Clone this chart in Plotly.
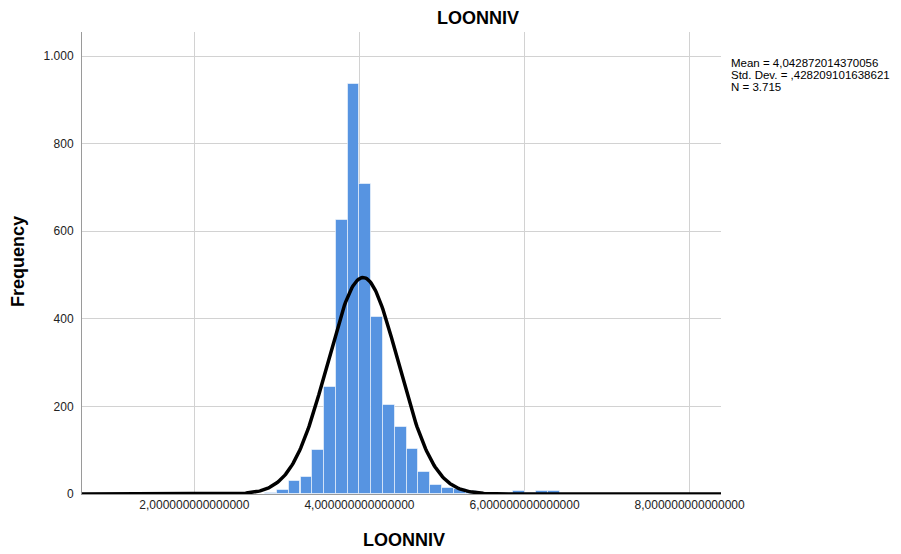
import numpy as np
import plotly.graph_objects as go

# Histogram of LOONNIV: lower edge of each bin and its frequency
bin_lower = [2.714, 2.857, 3.000, 3.143, 3.286, 3.429, 3.571, 3.714, 3.857,
             4.000, 4.143, 4.286, 4.429, 4.571, 4.714, 4.857, 5.000, 5.143,
             5.286, 5.429, 5.571, 5.714, 5.857, 6.000, 6.143, 6.286]
frequency = [1, 3, 10, 29, 39, 101, 245, 626, 936,
             708, 405, 203, 154, 102, 51, 20, 14, 11,
             7, 3, 2, 2, 8, 2, 7, 7]
BIN_WIDTH = 1 / 7

# Summary statistics
mean_value = 4.042872014370056
std_dev = 0.428209101638621
n_cases = 3715
stat_lines = ["Mean = 4,042872014370056",
              "Std. Dev. = ,428209101638621",
              "N = 3.715"]

x_tickvals = [2, 4, 6, 8]
x_ticktext = ["2,000000000000000", "4,000000000000000",
              "6,000000000000000", "8,000000000000000"]
y_tickvals = [0, 200, 400, 600, 800, 1000]
y_ticktext = ["0", "200", "400", "600", "800", "1.000"]

X_RANGE = [0.639, 8.38]
Y_RANGE = [0, 1055]

FONT = "Liberation Sans, Arial, sans-serif"
BAR_COLOR = "#5794e1"

MARGIN_L, MARGIN_R, MARGIN_T, MARGIN_B = 82, 180, 32, 60
W, H = 901, 554

centers = [b + BIN_WIDTH / 2 for b in bin_lower]

# Normal curve scaled to the histogram's counts
xs = np.linspace(X_RANGE[0], X_RANGE[1], 600)
ys = (n_cases * BIN_WIDTH / (std_dev * np.sqrt(2 * np.pi))
      * np.exp(-0.5 * ((xs - mean_value) / std_dev) ** 2))

fig = go.Figure()
fig.add_trace(go.Bar(
    x=centers, y=frequency, width=BIN_WIDTH,
    marker=dict(color=BAR_COLOR, line=dict(color="rgba(255,255,255,0.55)", width=1)),
    showlegend=False, hoverinfo="x+y",
))
fig.add_trace(go.Scatter(
    x=xs, y=ys, mode="lines",
    line=dict(color="black", width=3.5),
    showlegend=False, hoverinfo="skip",
))

# Stats block to the right of the plot, positioned in pixels
plot_w = W - MARGIN_L - MARGIN_R
plot_h = H - MARGIN_T - MARGIN_B
for i, line in enumerate(stat_lines):
    px, py = 729, 63 + 12 * i
    fig.add_annotation(
        x=(px - MARGIN_L) / plot_w, y=(H - MARGIN_B - py) / plot_h,
        xref="paper", yref="paper",
        text=line, showarrow=False, xanchor="left", yanchor="middle",
        font=dict(family=FONT, size=11.5, color="black"),
    )

# Axis titles placed as annotations in pixel positions
fig.add_annotation(
    x=(404 - MARGIN_L) / plot_w, y=(H - MARGIN_B - 540) / plot_h,
    xref="paper", yref="paper", text="<b>LOONNIV</b>", showarrow=False,
    xanchor="center", yanchor="middle",
    font=dict(family=FONT, size=18, color="black"),
)
fig.add_annotation(
    x=(18 - MARGIN_L) / plot_w, y=(H - MARGIN_B - 262) / plot_h,
    xref="paper", yref="paper", text="<b>Frequency</b>", showarrow=False,
    xanchor="center", yanchor="middle", textangle=-90,
    font=dict(family=FONT, size=18, color="black"),
)

fig.update_layout(
    width=W, height=H,
    margin=dict(l=MARGIN_L, r=MARGIN_R, t=MARGIN_T, b=MARGIN_B, autoexpand=False),
    paper_bgcolor="white", plot_bgcolor="white",
    font=dict(family=FONT, color="black"),
    title=dict(text="<b>LOONNIV</b>", x=478 / W, xanchor="center",
               y=1 - 18 / H, yanchor="middle",
               font=dict(family=FONT, size=18, color="black")),
    bargap=0,
)

fig.update_xaxes(
    range=X_RANGE, tickvals=x_tickvals, ticktext=x_ticktext,
    tickfont=dict(family=FONT, size=12, color="#222222"),
    showgrid=True, gridcolor="#d2d2d2", gridwidth=1,
    showline=True, linecolor="#9a9a9a", linewidth=1,
    zeroline=False, ticks="", automargin=False,
)
fig.update_yaxes(
    range=Y_RANGE, tickvals=y_tickvals, ticktext=y_ticktext,
    tickfont=dict(family=FONT, size=12, color="#222222"),
    showgrid=True, gridcolor="#d2d2d2", gridwidth=1,
    showline=True, linecolor="#9a9a9a", linewidth=1,
    zeroline=False, ticks="", automargin=False, ticklabelstandoff=5,
)

fig.write_html("out.html")
